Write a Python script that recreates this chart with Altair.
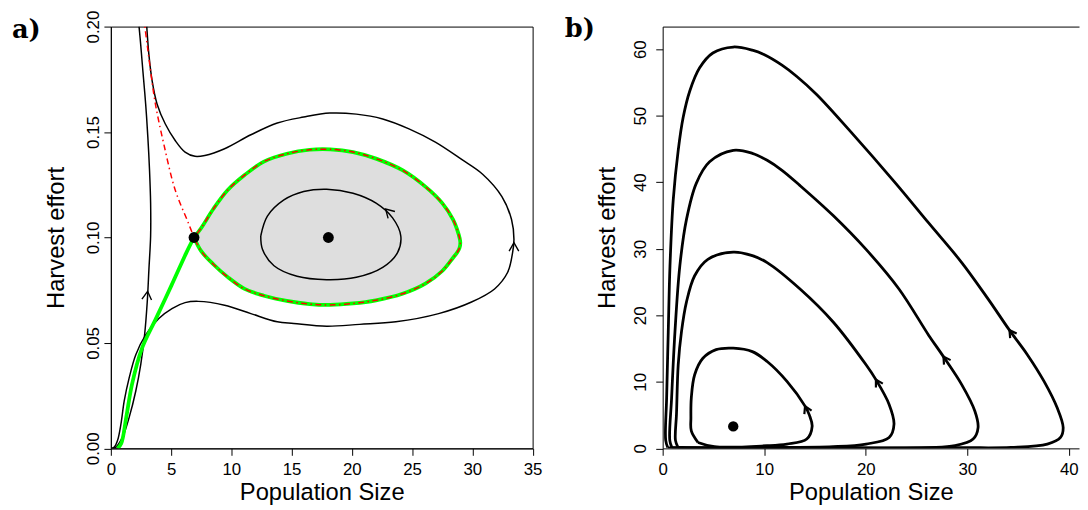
import altair as alt
import pandas as pd

# ================= panel a) =================
# homoclinic loop (shaded region), read at common x values
a_loop_x   = [6.9, 7.5, 8.5, 9.7, 11.1, 12.7, 14.6, 16.5, 18.2, 20.1, 22.0, 24.2, 26.1, 27.5, 28.4, 28.75, 28.93, 29.0]
a_loop_top = [0.100, 0.1045, 0.1135, 0.1225, 0.1296, 0.1360, 0.1397, 0.1416, 0.1418, 0.1405, 0.1374, 0.1319, 0.1241, 0.1163, 0.1085, 0.1035, 0.1000, 0.0975]
a_loop_bot = [0.100, 0.0935, 0.0873, 0.0812, 0.0756, 0.0724, 0.0699, 0.0684, 0.0680, 0.0687, 0.0702, 0.0733, 0.0781, 0.0841, 0.0904, 0.0930, 0.0950, 0.0975]

# unstable manifold from origin to saddle (green)
a_green_x = [0.55, 0.86, 1.27, 1.76, 2.58, 3.73, 5.04, 6.27, 6.9]
a_green_y = [0.0, 0.0023, 0.0145, 0.0305, 0.0474, 0.0614, 0.0774, 0.0928, 0.100]

# stable manifold from top to saddle (red dash-dot)
a_red_x = [2.82, 3.02, 3.30, 3.70, 4.39, 5.34, 6.43, 6.9]
a_red_y = [0.200, 0.1913, 0.1788, 0.1632, 0.1444, 0.1225, 0.1069, 0.100]

# trajectory 1 (left, nearly vertical)
a_t1_x = [0.2, 0.43, 0.97, 1.52, 2.07, 2.48, 2.80, 3.02, 3.16, 3.30, 3.30, 3.21, 3.07, 2.89, 2.66, 2.48, 2.34]
a_t1_y = [0.0, 0.0006, 0.0053, 0.0147, 0.0272, 0.0397, 0.0538, 0.0694, 0.0850, 0.1007, 0.1163, 0.1319, 0.1476, 0.1632, 0.1788, 0.1913, 0.2000]

# trajectory 2 (outer, around the loop)
a_t2_x = [0.05, 0.29, 0.56, 0.84, 1.11, 1.52, 2.07, 2.89, 3.98, 5.07, 6.16, 7.25, 9.44, 11.62, 13.81, 15.18, 17.91, 20.64,
          23.65, 27.20, 29.93, 31.84, 32.93, 33.34, 33.45, 33.25, 32.45, 30.85, 29.11, 26.93, 24.74, 22.56, 20.37,
          18.18, 16.0, 13.81, 11.62, 9.44, 7.80, 6.98, 6.16, 5.34, 4.52, 3.84, 3.43, 3.16, 2.98]
a_t2_y = [0.0, 0.0006, 0.0038, 0.0116, 0.0225, 0.0334, 0.0444, 0.0538, 0.0616, 0.0663, 0.0691, 0.0697, 0.0679, 0.0639,
          0.0600, 0.0592, 0.0579, 0.0588, 0.0600, 0.0639, 0.0694, 0.0756, 0.0835, 0.0929, 0.0991, 0.1085, 0.1194,
          0.1300, 0.1370, 0.1452, 0.1515, 0.1562, 0.1585, 0.1590, 0.1571, 0.1543, 0.1487, 0.1421, 0.1389, 0.1385,
          0.1405, 0.1460, 0.1538, 0.1632, 0.1741, 0.1866, 0.2000]

# inner closed cycle around the centre
a_cyc_x = [12.44, 12.99, 14.36, 16.0, 17.91, 20.1, 22.01, 23.38, 24.06, 23.79, 22.56, 20.37, 17.91, 15.45, 13.54, 12.58, 12.44]
a_cyc_y = [0.1007, 0.1101, 0.1178, 0.1218, 0.1229, 0.1210, 0.1163, 0.1093, 0.1007, 0.0928, 0.0858, 0.0811, 0.0800,
           0.0816, 0.0866, 0.0944, 0.1007]

# equilibria
a_pts_x = [6.9, 18.05]
a_pts_y = [0.100, 0.100]

# arrow heads (position + direction in degrees, clockwise from up)
a_arr_x = [3.05, 33.45, 22.8]
a_arr_y = [0.0745, 0.0975, 0.1135]
a_arr_dir = [6, 0, 315]

a_x_ticks = [0, 5, 10, 15, 20, 25, 30, 35]
a_y_ticks = [0.0, 0.05, 0.10, 0.15, 0.20]

# ================= panel b) =================
b_o1_x = [3.48, 5.10, 10.29, 12.24, 14.19, 14.72, 14.45, 14.02, 12.24, 10.29, 8.83, 6.95, 5.26, 3.96, 3.15, 2.82, 2.78, 2.82, 3.48]
b_o1_y = [0.89, 0.25, 0.40, 0.65, 1.40, 3.30, 5.00, 6.35, 10.07, 13.05, 14.54, 15.06, 14.84, 13.54, 11.07, 7.59, 4.61, 2.63, 0.89]

b_o2_x = [1.5, 3.0, 10.0, 16.79, 20.03, 22.30, 22.78, 22.30, 21.0, 20.03, 16.79, 13.53, 10.29, 8.83, 6.95, 4.45, 3.15,
          2.34, 1.85, 1.53, 1.36, 1.26, 1.5]
b_o2_y = [0.2, 0.1, 0.12, 0.25, 0.65, 1.64, 3.63, 6.61, 10.33, 12.56, 19.0, 23.96, 27.93, 28.97, 29.49, 28.42, 25.95,
          21.98, 17.51, 12.56, 5.12, 1.2, 0.2]

b_o3_x = [0.9, 3.0, 15.0, 26.19, 28.79, 30.57, 31.06, 30.74, 29.45, 27.65, 26.19, 23.27, 20.03, 16.79, 13.53, 11.75,
          10.29, 8.83, 6.95, 4.62, 3.31, 2.34, 1.69, 1.21, 0.88, 0.7, 0.9]
b_o3_y = [0.15, 0.08, 0.08, 0.12, 0.40, 1.40, 3.13, 5.61, 9.58, 13.79, 17.02, 23.96, 29.91, 35.0, 39.5, 41.8, 43.3,
          44.35, 44.79, 43.07, 39.84, 34.38, 27.44, 17.51, 7.59, 1.2, 0.15]

b_o4_x = [0.5, 3.0, 15.0, 29.45, 34.31, 37.88, 39.18, 39.44, 38.85, 37.56, 35.93, 34.15, 32.04, 29.45, 26.19, 22.95,
          18.40, 15.16, 13.21, 11.75, 9.97, 8.83, 6.95, 4.94, 3.64, 2.67, 2.02, 1.53, 1.04, 0.72, 0.55, 0.39, 0.3, 0.5]
b_o4_y = [0.12, 0.06, 0.06, 0.10, 0.15, 0.65, 1.64, 3.13, 6.10, 10.07, 14.05, 17.77, 22.47, 27.93, 33.88, 39.84, 47.8,
          53.2, 55.9, 57.6, 59.2, 59.85, 60.33, 59.43, 57.20, 53.72, 49.76, 44.79, 37.35, 27.44, 17.51, 7.59, 1.2, 0.12]

b_pts_x = [6.95]
b_pts_y = [3.3]

b_arr_x = [14.02, 21.0, 27.65, 34.15]
b_arr_y = [6.35, 10.33, 13.79, 17.77]
b_arr_dir = [335, 330, 326, 325]

b_x_ticks = [0, 10, 20, 30, 40]
b_y_ticks = [0, 10, 20, 30, 40, 50, 60]

# ================= helpers =================
FONT = "Liberation Sans"
LFS = 17
TFS = 24
CHEVRON = "M -0.5 0.866 L 0 0 L 0.5 0.866"


def path_df(xs, ys, name):
    return pd.DataFrame({"x": xs, "y": ys, "ord": list(range(len(xs))), "id": name})


A_XS = alt.Scale(domain=[0, 35], nice=False, zero=False)
A_YS = alt.Scale(domain=[0, 0.2], nice=False, zero=False)
B_XS = alt.Scale(domain=[0, 41], nice=False, zero=False)
B_YS = alt.Scale(domain=[0, 63.4], nice=False, zero=False)

common = dict(labelFont=FONT, titleFont=FONT, labelFontSize=LFS, titleFontSize=TFS, titleFontWeight="normal",
              labelColor="black", titleColor="black", labelFlush=False, labelOverlap=False, grid=False,
              tickSize=7, tickColor="black", domainColor="black")

AX_A_X = alt.Axis(values=a_x_ticks, title="Population Size", labelPadding=6, titlePadding=4, **common)
AX_A_Y = alt.Axis(values=a_y_ticks, format=".2f", title="Harvest effort", labelAngle=270,
                  labelAlign="center", labelBaseline="bottom", labelPadding=1.5, titlePadding=16.5, **common)
AX_B_X = alt.Axis(values=b_x_ticks, title="Population Size", orient="bottom", labelPadding=6, titlePadding=4,
                  **common)
AX_B_Y = alt.Axis(values=b_y_ticks, title="Harvest effort", labelAngle=270,
                  labelAlign="center", labelBaseline="bottom", labelPadding=6, titlePadding=12.5, **common)


def lines(df, xs, ys, axx, axy, color, width, dash=None):
    kw = dict(color=color, strokeWidth=width, interpolate="catmull-rom", clip=True)
    if dash is not None:
        kw["strokeDash"] = dash
    return alt.Chart(df).mark_line(**kw).encode(
        x=alt.X("x:Q", scale=xs, axis=axx),
        y=alt.Y("y:Q", scale=ys, axis=axy),
        order="ord:Q",
        detail="id:N",
    )


# ================= panel a layers =================
a_area_df = pd.DataFrame({"x": a_loop_x, "y": a_loop_top, "bot": a_loop_bot})
a_area = alt.Chart(a_area_df).mark_area(color="#dedede", interpolate="monotone").encode(
    x=alt.X("x:Q", scale=A_XS, axis=AX_A_X),
    y=alt.Y("y:Q", scale=A_YS, axis=AX_A_Y),
    y2="bot:Q",
)

loop_xs = a_loop_x + a_loop_x[::-1][1:]
loop_ys = a_loop_top + a_loop_bot[::-1][1:]

a_black_df = pd.concat([path_df(a_t1_x, a_t1_y, "t1"), path_df(a_t2_x, a_t2_y, "t2"),
                        path_df(a_cyc_x, a_cyc_y, "cyc")])
a_green_df = pd.concat([path_df(a_green_x, a_green_y, "g0"), path_df(loop_xs, loop_ys, "loop")])
a_red_df = pd.concat([path_df(a_red_x, a_red_y, "r0"), path_df(loop_xs, loop_ys, "loop")])

a_black = lines(a_black_df, A_XS, A_YS, AX_A_X, AX_A_Y, "black", 1.5)
a_green = lines(a_green_df, A_XS, A_YS, AX_A_X, AX_A_Y, "#00ff00", 3.8)
a_red = lines(a_red_df, A_XS, A_YS, AX_A_X, AX_A_Y, "#ff0000", 1.5, dash=[1.5, 3.5, 6, 3.5])

a_arrows = alt.Chart(pd.DataFrame({"x": a_arr_x, "y": a_arr_y, "d": a_arr_dir})).mark_point(
    shape=CHEVRON, filled=False, color="black", strokeWidth=1.4, size=380, opacity=1
).encode(
    x=alt.X("x:Q", scale=A_XS, axis=AX_A_X),
    y=alt.Y("y:Q", scale=A_YS, axis=AX_A_Y),
    angle=alt.Angle("d:Q", scale=None),
)
a_points = alt.Chart(pd.DataFrame({"x": a_pts_x, "y": a_pts_y})).mark_circle(
    color="black", size=120, opacity=1
).encode(
    x=alt.X("x:Q", scale=A_XS, axis=AX_A_X),
    y=alt.Y("y:Q", scale=A_YS, axis=AX_A_Y),
)
a_label = alt.Chart(pd.DataFrame({"t": ["a)"]})).mark_text(
    font="DejaVu Serif", fontWeight="bold", fontSize=26, align="left", baseline="alphabetic", clip=False
).encode(text="t:N", x=alt.value(-100), y=alt.value(12))

panel_a = alt.layer(a_area, a_black, a_green, a_red, a_arrows, a_points, a_label).properties(
    width=426.5, height=426.5, view=alt.ViewBackground(stroke="black", strokeWidth=1)
)

# ================= panel b layers =================
b_df = pd.concat([path_df(b_o1_x, b_o1_y, "o1"), path_df(b_o2_x, b_o2_y, "o2"),
                  path_df(b_o3_x, b_o3_y, "o3"), path_df(b_o4_x, b_o4_y, "o4")])
b_lines = alt.Chart(b_df).mark_line(color="black", strokeWidth=2.8, interpolate="catmull-rom", clip=True).encode(
    x=alt.X("x:Q", scale=B_XS, axis=AX_B_X),
    y=alt.Y("y:Q", scale=B_YS, axis=AX_B_Y),
    order="ord:Q",
    detail="id:N",
)
b_arrows = alt.Chart(pd.DataFrame({"x": b_arr_x, "y": b_arr_y, "d": b_arr_dir})).mark_point(
    shape=CHEVRON, filled=False, color="black", strokeWidth=2.2, size=260, opacity=1
).encode(
    x=alt.X("x:Q", scale=B_XS, axis=None),
    y=alt.Y("y:Q", scale=B_YS, axis=AX_B_Y),
    angle=alt.Angle("d:Q", scale=None),
)
b_points = alt.Chart(pd.DataFrame({"x": b_pts_x, "y": b_pts_y})).mark_circle(
    color="black", size=110, opacity=1
).encode(
    x=alt.X("x:Q", scale=B_XS, axis=alt.Axis(orient="top", labels=False, ticks=False, title=None, domain=True,
                                             domainColor="black")),
    y=alt.Y("y:Q", scale=B_YS, axis=AX_B_Y),
)
b_label = alt.Chart(pd.DataFrame({"t": ["b)"]})).mark_text(
    font="DejaVu Serif", fontWeight="bold", fontSize=26, align="left", baseline="alphabetic", clip=False
).encode(text="t:N", x=alt.value(-99), y=alt.value(11))

panel_b = alt.layer(b_lines, b_arrows, b_points, b_label).properties(width=421, height=426.5)

chart = alt.hconcat(panel_a, panel_b, spacing=21).properties(
    padding={"left": 3, "top": -2, "right": 0, "bottom": 0}
).configure_view(
    stroke="transparent"
).configure_axis(
    grid=False, domainColor="black", domainWidth=1, tickColor="black", tickWidth=1, tickSize=7,
    labelColor="black", titleColor="black", labelFont=FONT, titleFont=FONT,
    labelFontSize=LFS, titleFontSize=TFS, titleFontWeight="normal"
)

chart.save("out.html", embed_options={"renderer": "svg", "actions": False})
